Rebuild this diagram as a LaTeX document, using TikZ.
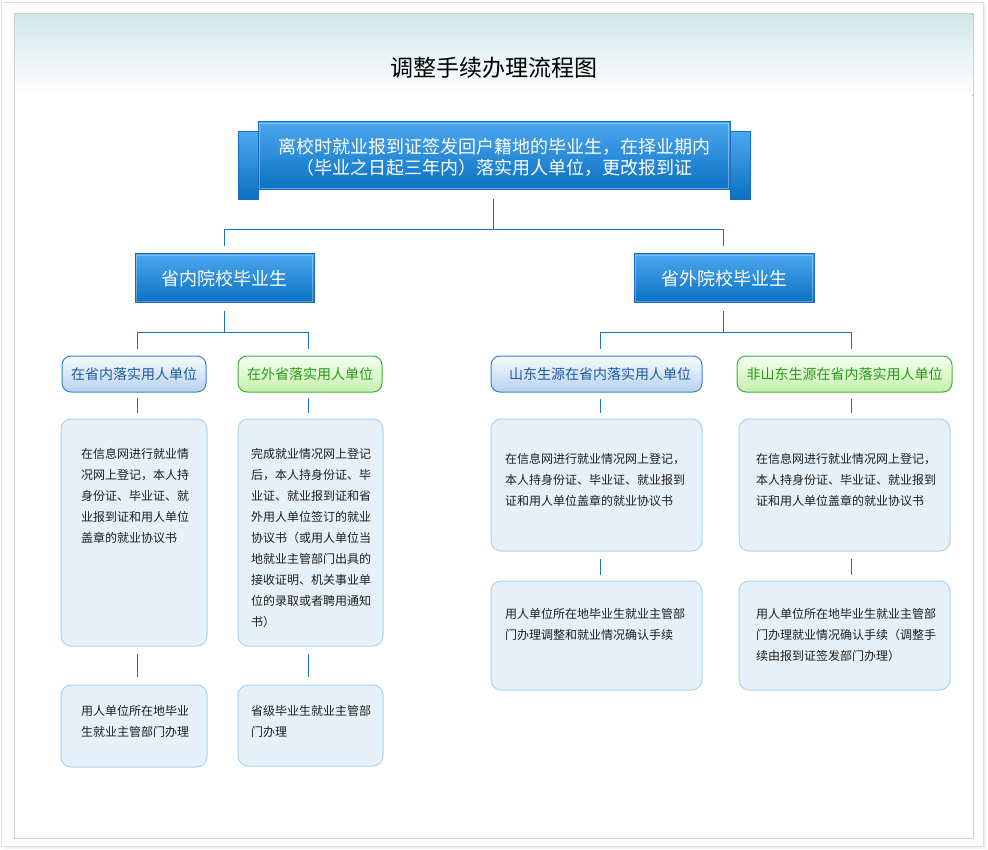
\documentclass[tikz,border=0pt]{standalone}
\usepackage{fontspec}
\setmainfont{Noto Sans CJK SC}
\usetikzlibrary{calc}
\definecolor{conncol}{RGB}{26,114,191}
\definecolor{bluetop}{RGB}{76,168,238}
\definecolor{bluebot}{RGB}{10,112,194}
\definecolor{blueedge}{RGB}{24,108,190}
\definecolor{lbtop}{RGB}{246,250,254}
\definecolor{lbbot}{RGB}{184,210,238}
\definecolor{lbedge}{RGB}{50,132,206}
\definecolor{lbtext}{RGB}{30,90,156}
\definecolor{lgtop}{RGB}{246,254,242}
\definecolor{lgbot}{RGB}{196,240,172}
\definecolor{lgedge}{RGB}{58,180,52}
\definecolor{lgtext}{RGB}{44,150,30}
\definecolor{cardfill}{RGB}{230,240,248}
\definecolor{cardedge}{RGB}{168,212,240}
\definecolor{bandtop}{RGB}{210,231,234}
\tikzset{
  conn/.style={draw=conncol, line width=1pt},
  bluebox/.style={draw=blueedge, line width=1pt, top color=bluetop, bottom color=bluebot, inner sep=0pt},
  lvlblue/.style={draw=lbedge, line width=1pt, rounded corners=9pt, top color=lbtop, bottom color=lbbot, inner sep=0pt, text=lbtext, font=\fontsize{14pt}{16pt}\selectfont},
  lvlgreen/.style={draw=lgedge, line width=1pt, rounded corners=9pt, top color=lgtop, bottom color=lgbot, inner sep=0pt, text=lgtext, font=\fontsize{14pt}{16pt}\selectfont},
  card/.style={draw=cardedge, line width=1pt, rounded corners=10pt, fill=cardfill, inner sep=0pt},
  cardtext/.style={anchor=north west, inner sep=0pt, align=left, text=black!88, font=\fontsize{12pt}{21pt}\selectfont},
}
\begin{document}
\begin{tikzpicture}[x=1pt, y=-1pt]
\useasboundingbox (0,0) rectangle (988,850);
% frame
\fill[black!6] (4,5) rectangle (986,849);
\filldraw[fill=white, draw=black!13, line width=1pt] (1.5,2.5) rectangle (983,846);
\fill[top color=bandtop, bottom color=white] (14.5,14.5) rectangle (972.5,96);
\draw[black!18, line width=1pt] (14,14) rectangle (973,838);
% title
\node (title) at (494,68) {\fontsize{23pt}{26pt}\selectfont 调整手续办理流程图};
% top box
\node[bluebox, minimum width=20pt, minimum height=68pt] (tabL) at (248,166) {};
\node[bluebox, minimum width=20pt, minimum height=68pt] (tabR) at (740,166) {};
\node[bluebox, minimum width=472pt, minimum height=68pt] (top) at (494,156) {};
\draw[white, opacity=0.35, line width=1pt] (259.5,123.5) rectangle (728.5,188.5);
\node[align=center, text=white, inner sep=0pt, font=\fontsize{18pt}{21pt}\selectfont] (toptext) at (494,157)
  {离校时就业报到证签发回户籍地的毕业生，在择业期内\\（毕业之日起三年内）落实用人单位，更改报到证};
% level 2
\node[bluebox, minimum width=179pt, minimum height=49pt, text=white, font=\fontsize{18pt}{20pt}\selectfont] (L2a) at (224.5,278.5) {省内院校毕业生};
\node[bluebox, minimum width=180pt, minimum height=49pt, text=white, font=\fontsize{18pt}{20pt}\selectfont] (L2b) at (724,278.5) {省外院校毕业生};
\draw[white, opacity=0.3, line width=1pt] (136.5,255.5) rectangle (312.5,301.5);
\draw[white, opacity=0.3, line width=1pt] (635.5,255.5) rectangle (812.5,301.5);
% level 3
\node[lvlblue, minimum width=144pt, minimum height=36pt] (L3a) at (134,374) {在省内落实用人单位};
\node[lvlgreen, minimum width=144pt, minimum height=36pt] (L3b) at (310,374) {在外省落实用人单位};
\node[lvlblue, minimum width=211pt, minimum height=36pt] (L3c) at (596.5,374) {\hspace*{7pt}山东生源在省内落实用人单位};
\node[lvlgreen, minimum width=215pt, minimum height=36pt] (L3d) at (844.5,374) {非山东生源在省内落实用人单位};
% level 4
\node[card, minimum width=146pt, minimum height=227pt] (L4a) at (134,532.5) {};
\node[card, minimum width=145pt, minimum height=227pt] (L4b) at (310.5,532.5) {};
\node[card, minimum width=211pt, minimum height=132pt] (L4c) at (596.5,485) {};
\node[card, minimum width=211pt, minimum height=132pt] (L4d) at (844.5,485) {};
\node[cardtext] (T4a) at (81,448) {在信息网进行就业情\\况网上登记，本人持\\身份证、毕业证、就\\业报到证和用人单位\\盖章的就业协议书};
\node[cardtext] (T4b) at (251,448) {完成就业情况网上登记\\后，本人持身份证、毕\\业证、就业报到证和省\\外用人单位签订的就业\\协议书（或用人单位当\\地就业主管部门出具的\\接收证明、机关事业单\\位的录取或者聘用通知\\书）};
\node[cardtext] (T4c) at (505,453) {在信息网进行就业情况网上登记，\\本人持身份证、毕业证、就业报到\\证和用人单位盖章的就业协议书};
\node[cardtext] (T4d) at (756,453) {在信息网进行就业情况网上登记，\\本人持身份证、毕业证、就业报到\\证和用人单位盖章的就业协议书};
% level 5
\node[card, minimum width=146pt, minimum height=82pt] (L5a) at (134,726) {};
\node[card, minimum width=145pt, minimum height=81pt] (L5b) at (310.5,725.5) {};
\node[card, minimum width=211pt, minimum height=109pt] (L5c) at (596.5,635.5) {};
\node[card, minimum width=211pt, minimum height=109pt] (L5d) at (844.5,635.5) {};
\node[cardtext] (T5a) at (81,705) {用人单位所在地毕业\\生就业主管部门办理};
\node[cardtext] (T5b) at (251,705) {省级毕业生就业主管部\\门办理};
\node[cardtext] (T5c) at (505,608) {用人单位所在地毕业生就业主管部\\门办理调整和就业情况确认手续};
\node[cardtext] (T5d) at (756,608) {用人单位所在地毕业生就业主管部\\门办理就业情况确认手续（调整手\\续由报到证签发部门办理）};
% connectors: top -> level 2
\draw[conn] ([xshift=-1pt,yshift=-9pt]top.south) -- ++(0,30) coordinate (j1);
\draw[conn] ([yshift=7pt]L2a.north) |- (j1) -| ([xshift=-1pt,yshift=7pt]L2b.north);
% level 2 -> level 3
\draw[conn] ([yshift=-8pt]L2a.south) -- ++(0,21) coordinate (j2);
\draw[conn] ([xshift=3pt,yshift=7pt]L3a.north) |- (j2) -| ([xshift=-2pt,yshift=7pt]L3b.north);
\draw[conn] ([xshift=-1pt,yshift=-8pt]L2b.south) -- ++(0,21) coordinate (j3);
\draw[conn] ([xshift=3.5pt,yshift=7pt]L3c.north) |- (j3) -| ([xshift=6.5pt,yshift=7pt]L3d.north);
% level 3 -> level 4
\draw[conn] ([xshift=3pt,yshift=-5pt]L3a.south) -- ([xshift=3pt,yshift=6pt]L4a.north);
\draw[conn] ([xshift=-2pt,yshift=-5pt]L3b.south) -- ([xshift=-2.5pt,yshift=6pt]L4b.north);
\draw[conn] ([xshift=3.5pt,yshift=-6pt]L3c.south) -- ([xshift=3.5pt,yshift=6pt]L4c.north);
\draw[conn] ([xshift=6.5pt,yshift=-6pt]L3d.south) -- ([xshift=6.5pt,yshift=6pt]L4d.north);
% level 4 -> level 5
\draw[conn] ([xshift=3pt,yshift=-7pt]L4a.south) -- ([xshift=3pt,yshift=8pt]L5a.north);
\draw[conn] ([xshift=-2.5pt,yshift=-7pt]L4b.south) -- ([xshift=-2.5pt,yshift=8pt]L5b.north);
\draw[conn] ([xshift=3.5pt,yshift=-7pt]L4c.south) -- ([xshift=3.5pt,yshift=6pt]L5c.north);
\draw[conn] ([xshift=6.5pt,yshift=-7pt]L4d.south) -- ([xshift=6.5pt,yshift=6pt]L5d.north);
\end{tikzpicture}
\end{document}
